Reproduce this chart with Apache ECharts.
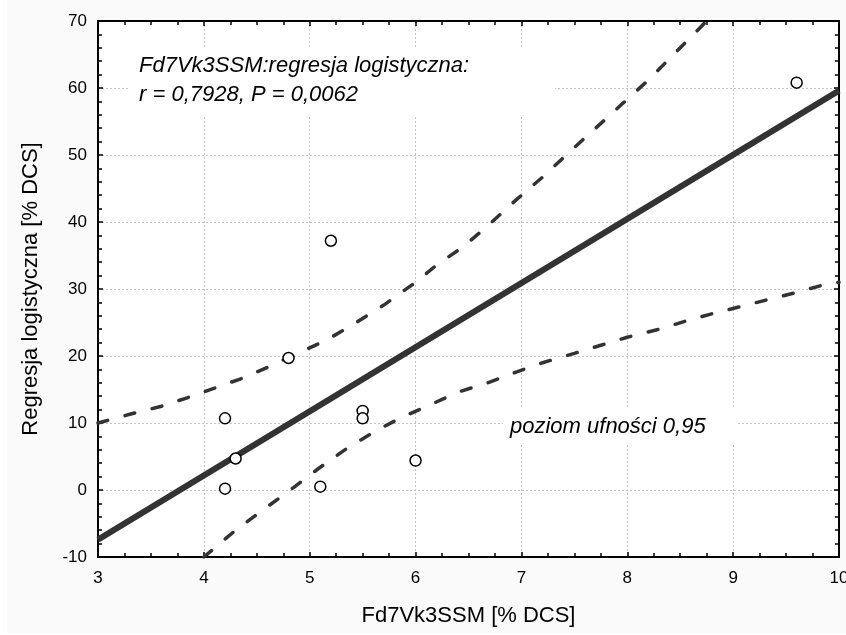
<!DOCTYPE html>
<html>
<head>
<meta charset="utf-8">
<script src="https://cdn.jsdelivr.net/npm/echarts@6/dist/echarts.min.js"></script>
<style>
  html, body { margin: 0; padding: 0; background: #fff; }
  #chart { width: 846px; height: 635px; }
</style>
</head>
<body>
<div id="chart"></div>
<script>
// points
var pointsX = [4.2, 4.2, 4.3, 4.8, 5.1, 5.2, 5.5, 5.5, 6.0, 9.6];
var pointsY = [10.7, 0.2, 4.7, 19.7, 0.5, 37.2, 11.8, 10.7, 4.4, 60.8];

// fitted line, two ends
var fitX = [3, 10];
var fitY = [-7.4, 59.6];

// upper 95% band
var upperX = [3, 3.3, 3.6, 3.85, 4.1, 4.35, 4.6, 4.9, 5.15, 5.4, 5.7, 6.0, 6.2, 6.45, 6.7, 6.95, 7.2, 7.45, 7.7, 7.95, 8.2, 8.45, 8.75];
var upperY = [10, 11.3, 12.5, 13.8, 15.2, 16.6, 18.3, 20.5, 22.3, 24.6, 27.6, 31.0, 33.6, 36.3, 39.7, 43.3, 46.7, 50.4, 54.0, 57.6, 61.2, 65.2, 70];

// lower 95% band
var lowerX = [4.0, 4.3, 4.6, 4.85, 5.1, 5.35, 5.6, 5.85, 6.15, 6.4, 6.7, 6.95, 7.2, 7.5, 7.75, 8.0, 8.3, 8.55, 8.8, 9.1, 9.35, 9.6, 9.85, 10];
var lowerY = [-10, -6.0, -2.5, 0.4, 3.4, 6.2, 8.6, 10.7, 12.8, 14.6, 16.1, 17.6, 19.0, 20.4, 21.6, 22.8, 24.0, 25.2, 26.3, 27.5, 28.5, 29.5, 30.6, 31.0];

var xTicks = { min: 3, max: 10, interval: 1 };
var yTicks = { min: -10, max: 70, interval: 10 };

function pairs(xs, ys) {
  return xs.map(function (x, i) { return [x, ys[i]]; });
}

var font = "'Liberation Sans', Arial, sans-serif";
var lineColor = "#333";

var tickStyle = { show: true, inside: true, length: 5, lineStyle: { color: "#000", width: 1.5 } };
var minorX = { show: true, splitNumber: 4, length: 4, lineStyle: { color: "#000", width: 1.5 } };
var minorY = { show: true, splitNumber: 5, length: 4, lineStyle: { color: "#000", width: 1.5 } };
var gridLine = { show: true, lineStyle: { color: "#c4c4c4", width: 1, type: [2, 2] } };
var edge = { show: true, onZero: false, lineStyle: { color: "#000", width: 2 } };

var chart = echarts.init(document.getElementById("chart"));
chart.setOption({
  backgroundColor: "#fafafa",
  animation: false,
  grid: {
    left: 98, right: 7, top: 21, bottom: 78,
    outerBoundsMode: "none", containLabel: false,
    show: true, backgroundColor: "#fff", borderWidth: 0
  },
  xAxis: [
    {
      type: "value", min: xTicks.min, max: xTicks.max, interval: xTicks.interval,
      name: "Fd7Vk3SSM [% DCS]", nameLocation: "middle", nameGap: 48,
      nameTextStyle: { fontFamily: font, fontSize: 22, color: "#000" },
      axisLine: edge, axisTick: tickStyle, minorTick: minorX,
      axisLabel: { fontFamily: font, fontSize: 17, color: "#000", margin: 13 },
      splitLine: gridLine
    },
    {
      type: "value", position: "top", min: xTicks.min, max: xTicks.max, interval: xTicks.interval,
      axisLine: edge, axisTick: tickStyle, minorTick: minorX,
      axisLabel: { show: false }, splitLine: { show: false }
    }
  ],
  yAxis: [
    {
      type: "value", min: yTicks.min, max: yTicks.max, interval: yTicks.interval,
      name: "Regresja logistyczna [% DCS]", nameLocation: "middle", nameGap: 56,
      nameTextStyle: { fontFamily: font, fontSize: 22, color: "#000" },
      axisLine: edge, axisTick: tickStyle, minorTick: minorY,
      axisLabel: { fontFamily: font, fontSize: 17, color: "#000", margin: 11 },
      splitLine: gridLine
    },
    {
      type: "value", position: "right", min: yTicks.min, max: yTicks.max, interval: yTicks.interval,
      axisLine: edge, axisTick: tickStyle, minorTick: minorY,
      axisLabel: { show: false }, splitLine: { show: false }
    }
  ],
  graphic: [
    { type: "rect", left: 0, top: 0, shape: { width: 7, height: 635 }, style: { fill: "#fff" }, silent: true },
    { type: "rect", left: 0, top: 633, shape: { width: 846, height: 2 }, style: { fill: "#fff" }, silent: true },
    { type: "rect", left: 128, top: 47, z: 5, shape: { width: 427, height: 68 }, style: { fill: "#fff" }, silent: true },
    { type: "text", left: 139, top: 55, z: 6, style: { text: "Fd7Vk3SSM:regresja logistyczna:", font: "italic 22px " + font, fill: "#000" } },
    { type: "text", left: 139, top: 84, z: 6, style: { text: "r = 0,7928, P = 0,0062", font: "italic 22px " + font, fill: "#000" } },
    { type: "rect", left: 503, top: 407, z: 5, shape: { width: 234, height: 38 }, style: { fill: "#fff" }, silent: true },
    { type: "text", left: 510, top: 416, z: 6, style: { text: "poziom ufności 0,95", font: "italic 22px " + font, fill: "#000" } }
  ],
  series: [
    {
      type: "line", data: pairs(upperX, upperY), showSymbol: false, z: 2,
      lineStyle: { color: lineColor, width: 3.5, type: [10, 18], cap: "round" }
    },
    {
      type: "line", data: pairs(lowerX, lowerY), showSymbol: false, z: 2,
      lineStyle: { color: lineColor, width: 3.5, type: [10, 18], cap: "round" }
    },
    {
      type: "line", data: pairs(fitX, fitY), showSymbol: false, z: 3,
      lineStyle: { color: lineColor, width: 6 }
    },
    {
      type: "scatter", data: pairs(pointsX, pointsY), z: 4,
      symbol: "circle", symbolSize: 11,
      itemStyle: { color: "#fff", borderColor: "#000", borderWidth: 1.5, opacity: 1 }
    }
  ]
});
</script>
</body>
</html>
